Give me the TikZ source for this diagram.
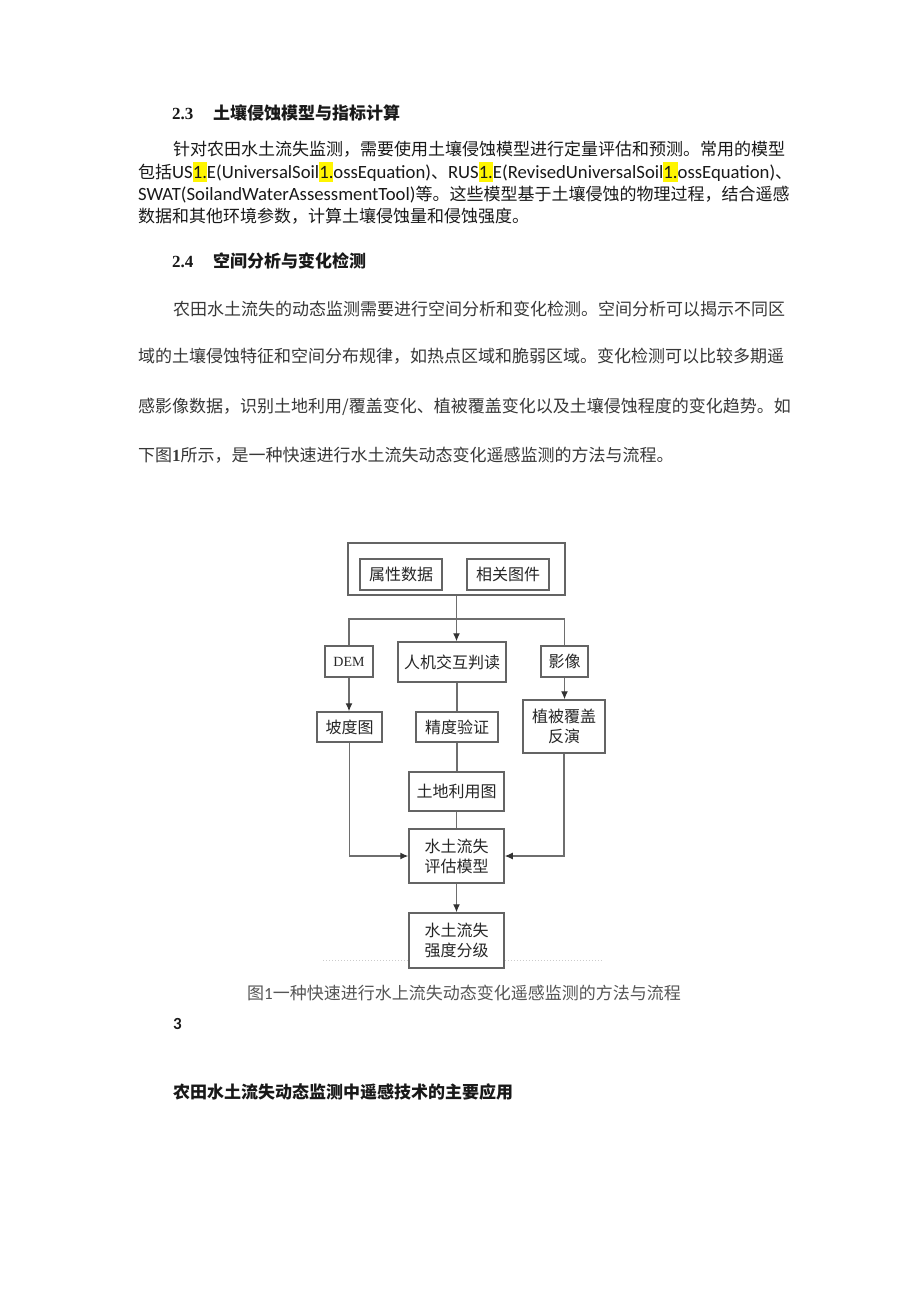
\documentclass[tikz,border=0pt]{standalone}
\usepackage{fontspec}
\setmainfont{Noto Sans CJK SC}
\newfontfamily\latinfont{Carlito}
\newfontfamily\seriffont{Liberation Serif}
\usetikzlibrary{arrows.meta, positioning, calc}
\XeTeXlinebreaklocale "zh"
\XeTeXlinebreakskip=0pt plus 3pt
\definecolor{cText}{RGB}{25, 25, 25}
\definecolor{cTextSoft}{RGB}{55, 55, 55}
\definecolor{cCaption}{RGB}{85, 85, 85}
\definecolor{cBoxDraw}{RGB}{100, 100, 100}
\definecolor{cLine}{RGB}{110, 110, 110}
\definecolor{cMark}{RGB}{255, 245, 0}
\newcommand{\hlmark}[1]{{\setlength{\fboxsep}{0pt}\colorbox{cMark}{\rule[-4pt]{0pt}{20pt}#1}}}
\newcommand{\jline}[2]{\hbox to #1pt{#2}}
\newcommand{\latinbig}{\fontsize{18.7}{20}\latinfont}
\tikzset{
    % --- text lines ---
    bodyText/.style={
        anchor=base west, inner sep=0pt,
        text=cText, font=\fontsize{17}{20}\selectfont
    },
    softText/.style={ bodyText, text=cTextSoft },
    headText/.style={ bodyText, font=\fontsize{17}{20}\selectfont\bfseries },
    capText/.style={ bodyText, text=cCaption },
    %
    % --- flow chart ---
    flowBox/.style={
        rectangle, draw=cBoxDraw, line width=1.5pt, fill=white,
        inner sep=0pt, align=center, text=black!85,
        font=\fontsize{16}{20}\selectfont
    },
    conn/.style={ draw=cLine, line width=1.2pt },
    connArrow/.style={ conn, -{Latex[length=8pt, width=7pt, fill=black!80, color=black!80]} }
}

\begin{document}
\begin{tikzpicture}[x=1pt, y=-1pt]

	\useasboundingbox[fill=white] (0,0) rectangle (920,1301);

	% =========================================
	% 1. Section 2.3
	% =========================================
	\node [headText] (h23) at (172,119) {\makebox[41pt][l]{\seriffont 2.3}土壤侵蚀模型与指标计算};

	\node [bodyText] (p1a) at (173,155) {\jline{610}{针对农田水土流失监测，需要使用土壤侵蚀模型进行定量评估和预测。常用的模型}};
	\node [bodyText] (p1b) at (138,178) {\jline{647}{包括{\latinbig US\hlmark{1.}E(UniversalSoil\hlmark{1.}ossEquation)}、{\latinbig RUS\hlmark{1.}E(RevisedUniversalSoil\hlmark{1.}ossEquation)}、}};
	\node [bodyText] (p1c) at (138,200) {\jline{650}{{\latinbig SWAT(SoilandWaterAssessmentTool)}等。这些模型基于土壤侵蚀的物理过程，结合遥感}};
	\node [bodyText] (p1d) at (138,222) {数据和其他环境参数，计算土壤侵蚀量和侵蚀强度。};

	% =========================================
	% 2. Section 2.4
	% =========================================
	\node [headText] (h24) at (172,267) {\makebox[41pt][l]{\seriffont 2.4}空间分析与变化检测};

	\node [softText] (p2a) at (173,315) {\jline{609}{农田水土流失的动态监测需要进行空间分析和变化检测。空间分析可以揭示不同区}};
	\node [softText] (p2b) at (138,362) {\jline{642}{域的土壤侵蚀特征和空间分布规律，如热点区域和脆弱区域。变化检测可以比较多期遥}};
	\node [softText] (p2c) at (138,412) {\jline{648}{感影像数据，识别土地利用/覆盖变化、植被覆盖变化以及土壤侵蚀程度的变化趋势。如}};
	\node [softText] (p2d) at (138,461) {下图{\seriffont\bfseries 1}所示，是一种快速进行水土流失动态变化遥感监测的方法与流程。};

	% =========================================
	% 3. Flow chart
	% =========================================

	% --- input group ---
	\node [flowBox, minimum width=217pt, minimum height=52pt] (inputs) at (456.5,569) {};
	\node [flowBox, minimum width=82pt, minimum height=31pt] (attr) at (401,574.5) {属性数据};
	\node [flowBox, minimum width=82pt, minimum height=31pt] (maps) at (508,574.5) {相关图件};

	% --- second row ---
	\node [flowBox, minimum width=48pt, minimum height=31pt, font=\fontsize{14}{16}\seriffont] (dem) at (349,661.5) {DEM};
	\node [flowBox, minimum width=108pt, minimum height=40pt] (interp) at (452,662) {人机交互判读};
	\node [flowBox, minimum width=47pt, minimum height=31pt] (image) at (564.5,661.5) {影像};

	% --- third row ---
	\node [flowBox, minimum width=65pt, minimum height=30pt] (slope) at (349.5,727) {坡度图};
	\node [flowBox, minimum width=82pt, minimum height=30pt] (check) at (457,727) {精度验证};
	\node [flowBox, minimum width=82pt, minimum height=53pt] (veg) at (564,726.5) {植被覆盖\\反演};

	% --- main column ---
	\node [flowBox, minimum width=95pt, minimum height=39pt] (landuse) at (456.5,791.5) {土地利用图};
	\node [flowBox, minimum width=95pt, minimum height=54pt] (model) at (456.5,856) {水土流失\\评估模型};
	\node [flowBox, minimum width=95pt, minimum height=55pt] (grade) at (456.5,940.5) {水土流失\\强度分级};

	\coordinate (split) at (456.5,619);

	% --- connectors ---
	\draw [connArrow] (inputs.south) -- (inputs.south |- interp.north);
	\draw [conn] (dem.north) -- (dem.north |- split) -- (image.north |- split) -- (image.north);
	\draw [connArrow] (dem.south) -- (slope.north -| dem.south);
	\draw [conn] (interp.south -| check.north) -- (check.north);
	\draw [connArrow] (image.south) -- (veg.north -| image.south);
	\draw [conn] (check.south) -- (landuse.north -| check.south);
	\draw [conn] (landuse.south) -- (model.north);
	\draw [connArrow] (slope.south) |- (model.west);
	\draw [connArrow] (veg.south) |- (model.east);
	\draw [connArrow] (model.south) -- (grade.north);

	% faint scan line under the chart
	\draw [black!20, dotted, line width=1pt] (323,960) -- (grade.west |- 0,960);
	\draw [black!20, dotted, line width=1pt] (grade.east |- 0,960) -- (603,960);

	% =========================================
	% 4. Caption and next section
	% =========================================
	\node [capText] (caption) at (247,999) {图{\latinfont 1}一种快速进行水上流失动态变化遥感监测的方法与流程};
	\node [bodyText, font=\fontsize{17}{20}\latinfont\bfseries] (sec3) at (173,1029) {3};
	\node [headText] (sec3title) at (173,1098) {农田水土流失动态监测中遥感技术的主要应用};

\end{tikzpicture}
\end{document}
